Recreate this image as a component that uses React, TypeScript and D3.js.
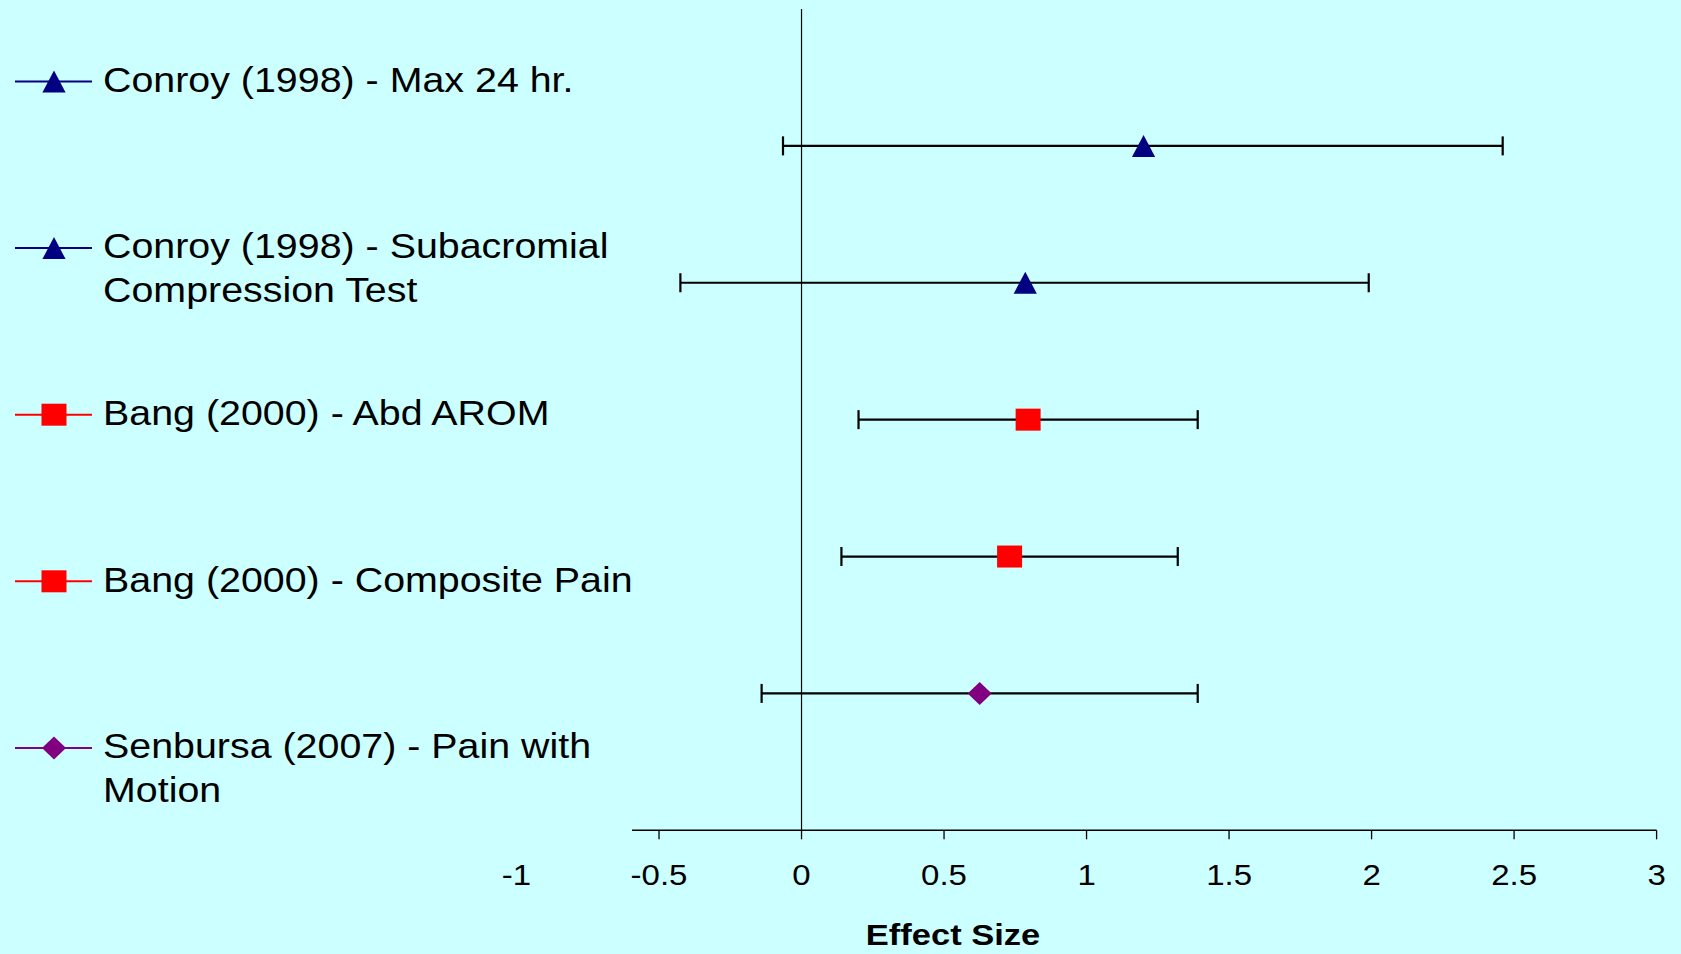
import React, { useEffect, useRef } from 'react'
import * as d3 from 'd3'

// forest plot rows, top to bottom
const studyLabels = [
  ['Conroy (1998) - Max 24 hr.'],
  ['Conroy (1998) - Subacromial', 'Compression Test'],
  ['Bang (2000) - Abd AROM'],
  ['Bang (2000) - Composite Pain'],
  ['Senbursa (2007) - Pain with', 'Motion'],
]
const rowPos = [5, 4, 3, 2, 1]
const effectSize = [1.2, 0.785, 0.795, 0.73, 0.625]
const ciLower = [-0.065, -0.425, 0.2, 0.14, -0.14]
const ciUpper = [2.46, 1.99, 1.39, 1.32, 1.39]
const markerShape = ['triangle', 'triangle', 'square', 'square', 'diamond']
const markerColor = ['#000080', '#000080', '#FF0000', '#FF0000', '#800080']
const xTicks = [-1, -0.5, 0, 0.5, 1, 1.5, 2, 2.5, 3]
const xTitle = 'Effect Size'

const W = 1681
const H = 954
const FONT = '"Liberation Sans", Arial, sans-serif'

const markerPath = (shape: string) => {
  if (shape === 'triangle') return 'M0,-11L11.6,11L-11.6,11Z'
  if (shape === 'square') return 'M-12.5,-11H12.5V11H-12.5Z'
  return 'M0,-11.5L12,0L0,11.5L-12,0Z'
}

const App = () => {
  const ref = useRef<SVGSVGElement>(null)

  useEffect(() => {
    const svg = d3.select(ref.current)
    svg.selectAll('*').remove()

    svg.append('rect').attr('width', W).attr('height', H).attr('fill', '#CCFFFF')

    const x = d3.scaleLinear().domain([-1, 3]).range([516.5, 1656.6])
    const y = d3.scaleLinear().domain([0, 6]).range([830.3, 9])
    const axisStart = 632

    // zero line
    svg.append('line')
      .attr('x1', x(0)).attr('x2', x(0))
      .attr('y1', y(6)).attr('y2', y(0))
      .attr('stroke', '#000').attr('stroke-width', 1.2)

    // x axis
    const ax = svg.append('g')
    ax.append('line')
      .attr('x1', axisStart).attr('x2', x(3))
      .attr('y1', y(0)).attr('y2', y(0))
      .attr('stroke', '#000').attr('stroke-width', 1.5)
    ax.selectAll('.tick')
      .data(xTicks.filter(t => x(t) >= axisStart))
      .enter()
      .append('line')
      .attr('x1', d => x(d)).attr('x2', d => x(d))
      .attr('y1', y(0)).attr('y2', y(0) + 9)
      .attr('stroke', '#000').attr('stroke-width', 1.3)
    ax.selectAll('.lbl')
      .data(xTicks)
      .enter()
      .append('text')
      .attr('transform', d => `translate(${x(d)},885) scale(1.1,1)`)
      .attr('text-anchor', 'middle')
      .attr('font-family', FONT)
      .attr('font-size', 30)
      .attr('fill', '#000')
      .text(d => String(d))

    svg.append('text')
      .attr('transform', 'translate(953,945) scale(1.15,1)')
      .attr('text-anchor', 'middle')
      .attr('font-family', FONT)
      .attr('font-size', 30)
      .attr('font-weight', 'bold')
      .attr('fill', '#000')
      .text(xTitle)

    // error bars
    const rows = svg.selectAll('.row')
      .data(rowPos.map((r, i) => i))
      .enter()
      .append('g')

    rows.append('line')
      .attr('x1', i => x(ciLower[i])).attr('x2', i => x(ciUpper[i]))
      .attr('y1', i => y(rowPos[i])).attr('y2', i => y(rowPos[i]))
      .attr('stroke', '#000').attr('stroke-width', 2.2)
    rows.append('line')
      .attr('x1', i => x(ciLower[i])).attr('x2', i => x(ciLower[i]))
      .attr('y1', i => y(rowPos[i]) - 9.5).attr('y2', i => y(rowPos[i]) + 9.5)
      .attr('stroke', '#000').attr('stroke-width', 2.2)
    rows.append('line')
      .attr('x1', i => x(ciUpper[i])).attr('x2', i => x(ciUpper[i]))
      .attr('y1', i => y(rowPos[i]) - 9.5).attr('y2', i => y(rowPos[i]) + 9.5)
      .attr('stroke', '#000').attr('stroke-width', 2.2)
    rows.append('path')
      .attr('d', i => markerPath(markerShape[i]))
      .attr('transform', i => `translate(${x(effectSize[i])},${y(rowPos[i])})`)
      .attr('fill', i => markerColor[i])

    // legend
    const leg = svg.selectAll('.leg')
      .data(studyLabels.map((l, i) => i))
      .enter()
      .append('g')
      .attr('transform', i => `translate(0,${81.5 + i * 166.6})`)

    leg.append('line')
      .attr('x1', 15).attr('x2', 92)
      .attr('stroke', i => markerColor[i]).attr('stroke-width', 2)
    leg.append('path')
      .attr('d', i => markerPath(markerShape[i]))
      .attr('transform', 'translate(54,0)')
      .attr('fill', i => markerColor[i])
    const txt = leg.append('text')
      .attr('transform', 'translate(103,10.3) scale(1.125,1)')
      .attr('font-family', FONT)
      .attr('font-size', 35)
      .attr('fill', '#000')
    txt.selectAll('tspan')
      .data(i => studyLabels[i])
      .enter()
      .append('tspan')
      .attr('x', 0)
      .attr('dy', (d, j) => (j === 0 ? 0 : 43.7))
      .text(d => d)
  }, [])

  return (
    <svg
      ref={ref}
      width={W}
      height={H}
      style={{ position: 'absolute', left: 0, top: 0, display: 'block' }}
    />
  )
}

export default App
